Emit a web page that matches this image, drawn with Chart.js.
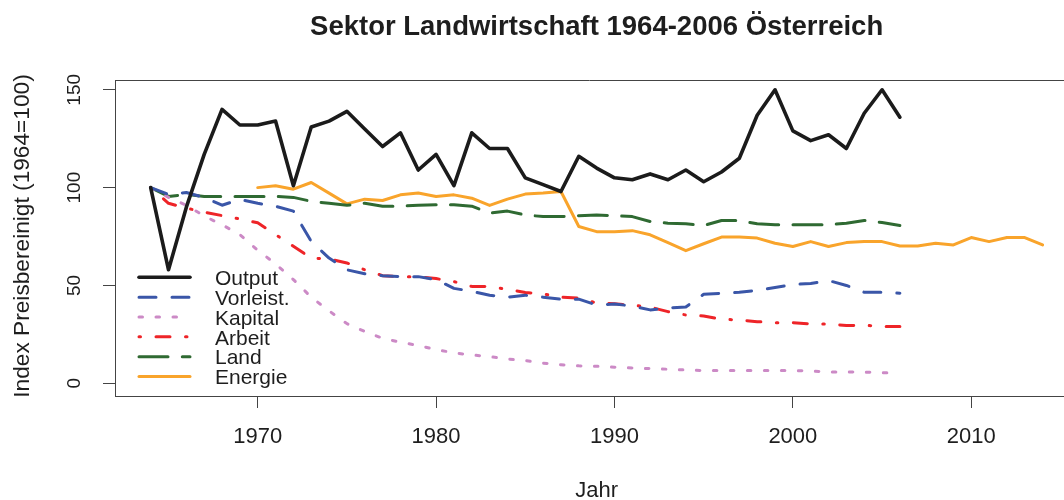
<!DOCTYPE html>
<html>
<head>
<meta charset="utf-8">
<script src="https://cdn.jsdelivr.net/npm/chart.js@4/dist/chart.umd.min.js"></script>
<style>
  html, body { margin: 0; padding: 0; background: #fff; }
  #wrap { width: 1064px; height: 500px; position: relative; }
</style>
</head>
<body>
<div id="wrap"><canvas id="myChart"></canvas></div>
<script>
const years = [1964, 1965, 1966, 1967, 1968, 1969, 1970, 1971, 1972, 1973,
  1974, 1975, 1976, 1977, 1978, 1979, 1980, 1981, 1982, 1983,
  1984, 1985, 1986, 1987, 1988, 1989, 1990, 1991, 1992, 1993,
  1994, 1995, 1996, 1997, 1998, 1999, 2000, 2001, 2002, 2003,
  2004, 2005, 2006];
const energieYears = [1970, 1971, 1972, 1973, 1974, 1975, 1976, 1977, 1978, 1979,
  1980, 1981, 1982, 1983, 1984, 1985, 1986, 1987, 1988, 1989,
  1990, 1991, 1992, 1993, 1994, 1995, 1996, 1997, 1998, 1999,
  2000, 2001, 2002, 2003, 2004, 2005, 2006, 2007, 2008, 2009,
  2010, 2011, 2012, 2013, 2014];

const output = [100, 58, 90, 117, 140, 132, 132, 134, 101, 131,
  134, 139, 130, 121, 128, 109, 117, 101, 128, 120,
  120, 105, 101.5, 98, 116, 110, 105, 104, 107, 104,
  109, 103, 108, 115, 137, 150, 129, 124, 127, 120,
  138, 150, 136];
const vorleist = [100, 96.5, 97.5, 95, 91, 94, 92, 90.5, 88, 72.5,
  64, 58, 56, 55, 54.5, 54.5, 53, 48.5, 47, 45,
  44, 45, 44, 43, 43, 40, 40.5, 39.5, 37.5, 38.5,
  39, 45.5, 46, 46.5, 47.5, 49, 50.5, 51, 52.5, 50,
  46.5, 46.5, 46];
const kapital = [100, 95, 91, 85.5, 81, 76, 68, 61, 53, 44,
  37, 30.5, 26.5, 23, 21, 19.3, 17.3, 15.5, 14.5, 13.6,
  12.4, 11.6, 10.3, 9.5, 8.9, 8.7, 8.2, 7.8, 7.5, 7.2,
  6.8, 6.5, 6.5, 6.5, 6.5, 6.5, 6.5, 6.3, 5.8, 5.8,
  5.7, 5.4, 5.1];
const arbeit = [100, 92, 89.5, 87.5, 85.7, 84, 82, 76, 70, 64,
  63.5, 61.5, 58, 55, 54.5, 54.5, 53.5, 52, 49.5, 49.4,
  48, 46.4, 45.7, 44, 43.5, 41, 40.6, 39.9, 38.9, 36.6,
  34.9, 34.4, 32.7, 32.4, 31.5, 31, 31, 30.3, 30.3, 29.5,
  29.7, 29, 29];
const land = [100, 95.5, 96.5, 95.5, 95.5, 95.5, 95.5, 95.5, 95, 93,
  92, 91, 92, 90.5, 90.5, 91, 91.2, 91.2, 90.5, 87,
  88, 86, 85.2, 85.2, 85.6, 86, 85.6, 85.2, 82.7, 81.8,
  81.5, 80.6, 83.2, 83.2, 81.5, 81, 81, 81, 81, 81.8,
  83.2, 82.2, 80.6];
const energie = [100, 101, 99.2, 102.6, 97.2, 91.7, 94.1, 93.4, 96.3, 97.2,
  95.5, 96.3, 94.6, 90.9, 94.1, 96.7, 97.2, 98, 80.1, 77.5,
  77.5, 78, 75.9, 71.9, 67.8, 71.3, 74.7, 74.7, 74.2, 71.6,
  69.9, 72.4, 69.9, 71.9, 72.4, 72.4, 70.2, 70.2, 71.6, 70.7,
  74.5, 72.4, 74.5, 74.5, 70.7];

const xTicks = [1970, 1980, 1990, 2000, 2010];
const yTicks = [0, 50, 100, 150];

const FONT = "'Liberation Sans', Arial, sans-serif";
const TEXT = '#1e1e1e';
const AXIS = '#444';

function pts(xs, ys) {
  return xs.map((x, i) => ({ x: x, y: ys[i] }));
}

function line(label, xs, ys, color, dash, width) {
  return {
    label: label,
    data: pts(xs, ys),
    borderColor: color,
    backgroundColor: color,
    borderWidth: width || 3,
    borderDash: dash,
    borderCapStyle: 'round',
    borderJoinStyle: 'round',
    pointRadius: 0,
    tension: 0,
    fill: false
  };
}

const data = {
  datasets: [
    line('Output', years, output, '#1b1b1b', [], 3.6),
    line('Vorleist.', years, vorleist, '#3a56a8', [17, 16]),
    line('Kapital', years, kapital, '#cc8ac6', [3.5, 13.5]),
    line('Arbeit', years, arbeit, '#ee2428', [1.5, 15.5, 14, 15.5]),
    line('Land', years, land, '#2f6a32', [29, 14.3]),
    line('Energie', energieYears, energie, '#f9a42b', [])
  ]
};

// title, box top, rotated y labels, axis titles and legend
const extras = {
  id: 'extras',
  afterDraw(chart) {
    const ctx = chart.ctx;
    const a = chart.chartArea;
    const xs = chart.scales.x;
    const ys = chart.scales.y;
    ctx.save();

    ctx.strokeStyle = AXIS;
    ctx.lineWidth = 1;
    ctx.beginPath();
    ctx.moveTo(a.left, a.top + 0.5);
    ctx.lineTo(a.right, a.top + 0.5);
    ctx.stroke();

    ctx.fillStyle = TEXT;
    ctx.font = 'bold 27.5px ' + FONT;
    ctx.textAlign = 'center';
    ctx.textBaseline = 'middle';
    ctx.fillText('Sektor Landwirtschaft 1964-2006 Österreich', xs.getPixelForValue(1989), 27);

    ctx.font = '22px ' + FONT;
    ctx.fillText('Jahr', xs.getPixelForValue(1989), 491);

    ctx.font = '19px ' + FONT;
    yTicks.forEach(v => {
      ctx.save();
      ctx.translate(75, ys.getPixelForValue(v));
      ctx.rotate(-Math.PI / 2);
      ctx.fillText(String(v), 0, 0);
      ctx.restore();
    });

    ctx.save();
    ctx.font = '22.7px ' + FONT;
    ctx.translate(23, (a.top + a.bottom) / 2 - 2);
    ctx.rotate(-Math.PI / 2);
    ctx.fillText('Index Preisbereinigt (1964=100)', 0, 0);
    ctx.restore();

    // legend
    ctx.textAlign = 'left';
    ctx.font = '21px ' + FONT;
    chart.data.datasets.forEach((ds, i) => {
      const y = 277.3 + i * 19.85;
      ctx.save();
      ctx.strokeStyle = ds.borderColor;
      ctx.lineWidth = ds.borderWidth;
      ctx.lineCap = 'round';
      ctx.setLineDash(ds.borderDash);
      ctx.beginPath();
      ctx.moveTo(139, y);
      ctx.lineTo(190, y);
      ctx.stroke();
      ctx.restore();
      ctx.fillStyle = TEXT;
      ctx.fillText(ds.label, 215, y + 2);
    });

    ctx.restore();
  }
};

const config = {
  type: 'line',
  data: data,
  options: {
    responsive: true,
    maintainAspectRatio: false,
    animation: false,
    layout: { padding: { top: 80, left: 0, right: 0, bottom: 0 } },
    plugins: {
      legend: { display: false },
      title: { display: false },
      tooltip: { enabled: false }
    },
    scales: {
      x: {
        type: 'linear',
        min: 1962,
        max: 2015.2,
        afterBuildTicks: s => { s.ticks = xTicks.map(v => ({ value: v })); },
        afterFit: s => { s.height = 104; },
        ticks: {
          color: TEXT,
          font: { family: FONT, size: 22 },
          padding: 16,
          maxRotation: 0,
          autoSkip: false,
          callback: v => String(v)
        },
        grid: { drawOnChartArea: false, tickLength: 12, color: AXIS, lineWidth: 1 },
        border: { display: true, color: AXIS, width: 1 }
      },
      y: {
        min: -6.5,
        max: 155,
        afterBuildTicks: s => { s.ticks = yTicks.map(v => ({ value: v })); },
        afterFit: s => { s.width = 115; },
        ticks: { display: false },
        grid: { drawOnChartArea: false, tickLength: 12, color: AXIS, lineWidth: 1 },
        border: { display: true, color: AXIS, width: 1 }
      }
    }
  },
  plugins: [extras]
};

const myChart = new Chart(document.getElementById('myChart'), config);
</script>
</body>
</html>
